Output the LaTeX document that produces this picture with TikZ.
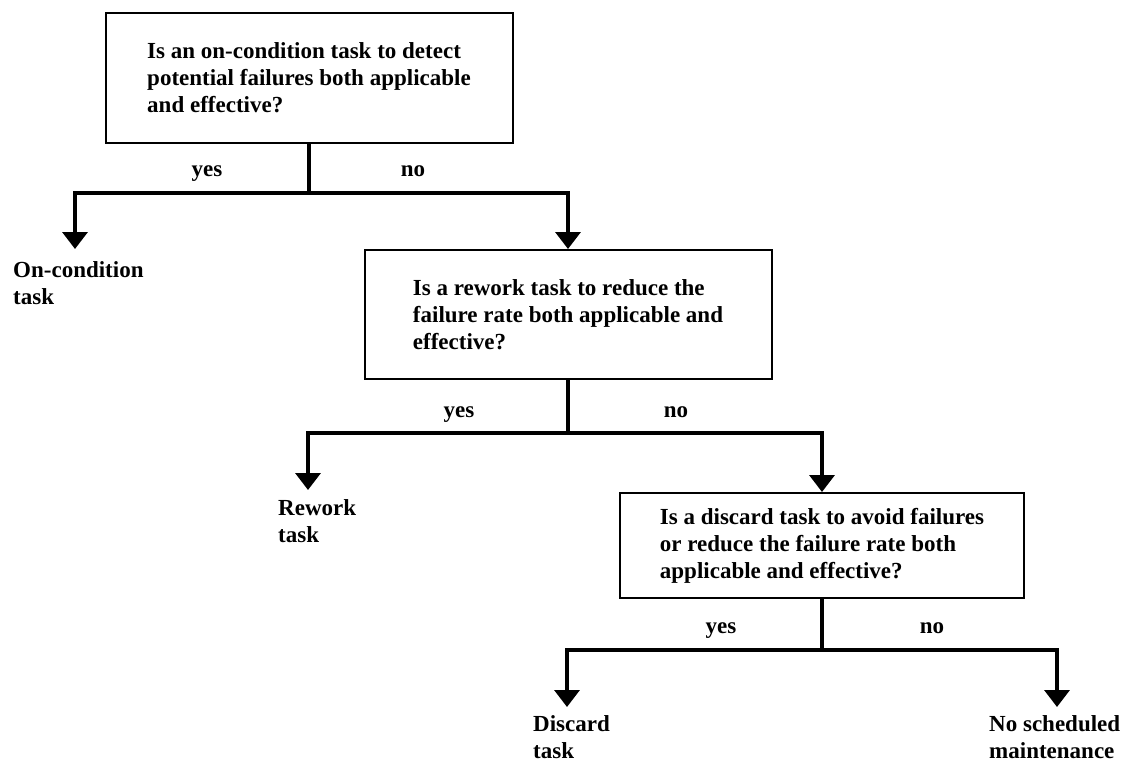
\documentclass[tikz,border=0pt]{standalone}
\usepackage{fontspec}
\setmainfont{Liberation Serif}
\usetikzlibrary{arrows.meta}
\begin{document}
\begin{tikzpicture}[x=1pt,y=-1pt,
  txt/.style={font=\fontsize{23}{27}\selectfont\bfseries},
  qbox/.style={txt, draw, line width=2pt, minimum width=407pt, align=left, inner sep=0pt},
  lbl/.style={txt, align=left, anchor=north west, inner sep=0pt},
  yn/.style={txt, anchor=base, inner sep=0pt},
  conn/.style={line width=3.5pt},
  arr/.style={conn, -{Triangle[width=25pt,length=17pt]}}]
\path[use as bounding box] (0,0) rectangle (1126,762);

\node[qbox, minimum height=130pt] (q1) at (309,78) {Is an on-condition task to detect\\potential failures both applicable\\and effective?};
\coordinate (j1) at (309,193);
\coordinate (t1) at (75,249);
\node[lbl] (l1) at (13,261) {On-condition\\task};
\node[yn] (y1) at (207,177) {yes};
\node[yn] (n1) at (413,177) {no};

\node[qbox, minimum height=129pt, anchor=north] (q2) at (568,249) {Is a rework task to reduce the\\failure rate both applicable and\\effective?};
\coordinate (j2) at (568,433);
\coordinate (t2) at (308,490);
\node[lbl] (l2) at (278,499) {Rework\\task};
\node[yn] (y2) at (459,417) {yes};
\node[yn] (n2) at (676,417) {no};

\node[qbox, minimum height=105pt, minimum width=404pt, anchor=north] (q3) at (822,492) {Is a discard task to avoid failures\\or reduce the failure rate both\\applicable and effective?};
\coordinate (j3) at (822,650);
\coordinate (t3) at (567,707);
\coordinate (t4) at (1057,707);
\node[lbl] (l3) at (533,715) {Discard\\task};
\node[lbl] (l4) at (989,715) {No scheduled\\maintenance};
\node[yn] (y3) at (721,633) {yes};
\node[yn] (n3) at (932,633) {no};

\draw[conn] (q1.south) -- (j1);
\draw[arr] (j1) -| (t1);
\draw[arr] (j1) -| (q2.north);
\draw[conn] (q2.south) -- (j2);
\draw[arr] (j2) -| (t2);
\draw[arr] (j2) -| (q3.north);
\draw[conn] (q3.south) -- (j3);
\draw[arr] (j3) -| (t3);
\draw[arr] (j3) -| (t4);
\end{tikzpicture}
\end{document}
